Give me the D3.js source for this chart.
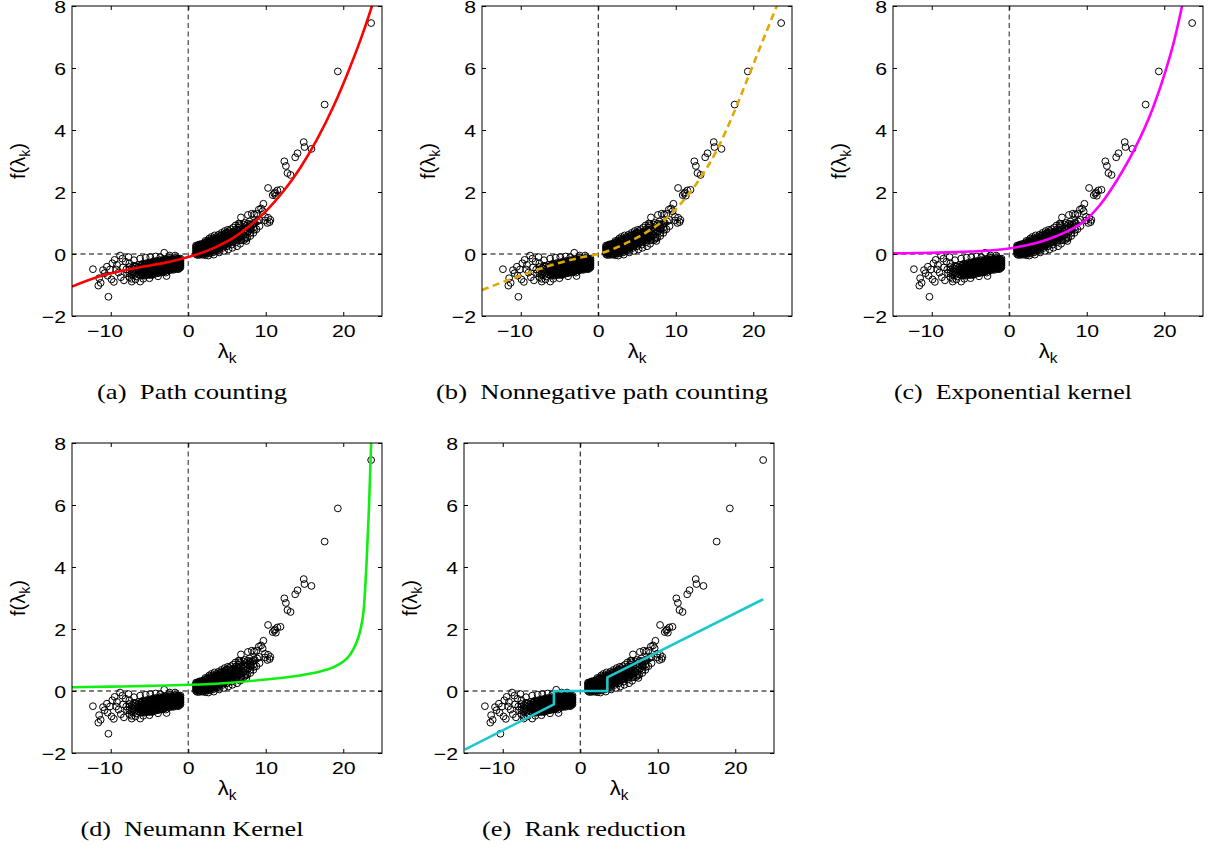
<!DOCTYPE html>
<html>
<head>
<meta charset="utf-8">
<script src="https://cdn.jsdelivr.net/npm/d3@7"></script>
<style>
  body { margin: 0; background: #fff; }
  svg { display: block; }
</style>
</head>
<body>
<svg id="chart" width="1211" height="847"></svg>
<script>
// ---------------- DATA ----------------
const xDomain = [-15, 25];
const yDomain = [-2, 8];
const xTicks = [-10, 0, 10, 20];
const yTicks = [-2, 0, 2, 4, 6, 8];

// eigenvalue scatter (lambda_k, f(lambda_k))
const outlierPoints = [
  [23.6, 7.45], [19.3, 5.89], [17.6, 4.82], [15.9, 3.39], [14.9, 3.61], [15.0, 3.45],
  [14.1, 3.25], [13.8, 3.12], [12.4, 2.99], [12.6, 2.84], [12.8, 2.61], [13.2, 2.55]
];
const tailPoints = [
  [10.3, 2.13], [10.9, 1.9], [11.1, 1.95], [11.3, 1.88], [11.5, 2.05], [11.9, 2.07], [11.2, 1.99],
  [9.7, 1.62], [9.4, 1.47], [9.1, 1.43], [9.6, 1.38], [8.8, 1.3], [8.5, 1.27], [8.2, 1.3],
  [7.7, 1.26], [9.9, 1.2], [10.3, 1.17], [10.6, 1.1], [10.5, 1.03], [10.2, 1.0], [9.9, 1.08],
  [9.2, 1.1], [8.9, 1.05], [8.6, 1.0], [8.3, 0.95], [8.0, 0.9], [7.6, 0.85], [8.1, 0.82],
  [8.5, 0.78], [7.9, 1.05], [7.3, 1.0], [6.8, 1.18], [6.7, 0.93], [6.6, 0.97], [7.1, 0.62],
  [7.4, 0.5], [7.5, 0.42], [6.9, 0.45]
];
const posScatterPoints = [
  [2.2, 0.42], [2.7, 0.5], [3.0, 0.55], [3.4, 0.6], [3.9, 0.62], [4.3, 0.68], [4.7, 0.74],
  [5.1, 0.78], [5.5, 0.8], [5.8, 0.85], [6.1, 0.92], [6.5, 0.98], [4.0, 0.05], [4.6, 0.1],
  [5.2, 0.15], [5.7, 0.2], [6.3, 0.25], [6.7, 0.33], [7.2, 0.45], [7.6, 0.52], [8.0, 0.58],
  [8.4, 0.68], [8.8, 0.8], [9.2, 0.9], [3.3, -0.02], [2.6, -0.05]
];
const negScatterPoints = [
  [-12.3, -0.49], [-11.6, -1.02], [-11.3, -0.93], [-11.5, -0.78], [-11.0, -0.52], [-10.3, -1.38],
  [-10.5, -0.41], [-10.8, -0.62], [-9.9, -0.82], [-9.5, -0.19], [-8.8, -0.05], [-9.6, -0.9],
  [-10.1, -0.5], [-9.2, -0.35], [-9.0, -0.6], [-8.4, -0.43], [-8.7, -0.75], [-8.1, -0.25],
  [-7.9, -0.62], [-7.3, -0.89], [-8.3, -0.85], [-6.2, -0.89], [-4.7, -0.68], [-3.1, 0.04],
  [-2.8, -0.71], [-6.2, -0.15], [-5.5, -0.12], [-4.9, -0.1], [-4.2, -0.08], [-3.6, -0.1],
  [-7.0, -0.2], [-7.6, -0.3], [-8.0, -0.5], [-6.8, -0.82], [-5.8, -0.8], [-5.0, -0.78],
  [-3.9, -0.72], [-9.8, -0.3], [-9.3, -0.5], [-10.4, -0.7], [-8.5, -0.15], [-7.7, -0.1],
  [-2.4, -0.05], [-1.7, -0.05]
];
// dense bands: [lambda, list of f values at that lambda]
const posBandColumns = [
  [1.0, [0.0, 0.07, 0.14, 0.21, 0.27]],
  [1.08, [0.03, 0.1, 0.17, 0.24]],
  [1.15, [-0.03, 0.04, 0.11, 0.18, 0.25]],
  [1.3, [0.01, 0.08, 0.15, 0.22, 0.29]],
  [1.38, [0.05, 0.12, 0.19, 0.26]],
  [1.45, [-0.03, 0.04, 0.11, 0.18, 0.25, 0.31]],
  [1.6, [0.01, 0.08, 0.15, 0.22, 0.29]],
  [1.7, [0.02, 0.09, 0.16, 0.23, 0.3]],
  [1.8, [-0.02, 0.05, 0.12, 0.19, 0.26, 0.33]],
  [2.0, [0.02, 0.09, 0.16, 0.23, 0.3]],
  [2.1, [0.0, 0.07, 0.14, 0.21, 0.28, 0.36]],
  [2.2, [-0.04, 0.05, 0.12, 0.19, 0.26, 0.34]],
  [2.4, [0.03, 0.1, 0.17, 0.24, 0.31, 0.38]],
  [2.5, [0.08, 0.15, 0.22, 0.29, 0.36, 0.43]],
  [2.6, [0.06, 0.13, 0.2, 0.27, 0.34]],
  [2.8, [0.02, 0.09, 0.16, 0.23, 0.3, 0.38, 0.45]],
  [2.9, [0.13, 0.2, 0.27, 0.34, 0.41]],
  [3.0, [0.1, 0.17, 0.24, 0.31, 0.38]],
  [3.2, [0.05, 0.13, 0.2, 0.27, 0.34, 0.42, 0.5]],
  [3.3, [0.1, 0.17, 0.24, 0.31, 0.38, 0.46]],
  [3.4, [0.15, 0.22, 0.29, 0.36, 0.44]],
  [3.6, [0.1, 0.18, 0.25, 0.32, 0.4, 0.48, 0.55]],
  [3.7, [0.16, 0.23, 0.3, 0.37, 0.44, 0.52]],
  [3.8, [0.2, 0.27, 0.34, 0.42, 0.5]],
  [4.0, [0.14, 0.22, 0.3, 0.37, 0.45, 0.53]],
  [4.1, [0.2, 0.27, 0.34, 0.41, 0.49, 0.57]],
  [4.25, [0.25, 0.33, 0.4, 0.48, 0.6]],
  [4.5, [0.2, 0.3, 0.37, 0.45, 0.52, 0.62]],
  [4.6, [0.25, 0.34, 0.42, 0.5, 0.58]],
  [4.75, [0.3, 0.4, 0.48, 0.56, 0.66]],
  [5.0, [0.25, 0.35, 0.44, 0.52, 0.6, 0.7]],
  [5.15, [0.3, 0.4, 0.49, 0.58, 0.67]],
  [5.3, [0.36, 0.46, 0.55, 0.64, 0.74]],
  [5.6, [0.3, 0.42, 0.5, 0.6, 0.68]],
  [5.75, [0.38, 0.48, 0.58, 0.68]],
  [5.9, [0.45, 0.55, 0.64, 0.73]],
  [6.2, [0.38, 0.5, 0.6, 0.7, 0.8]],
  [6.35, [0.45, 0.56, 0.66, 0.76]],
  [6.5, [0.52, 0.63, 0.73, 0.85]],
  [6.8, [0.45, 0.58, 0.68, 0.78]],
  [7.1, [0.6, 0.72, 0.83, 0.95]],
  [7.4, [0.55, 0.68, 0.8, 0.9]],
  [7.7, [0.72, 0.85, 0.98]],
  [8.0, [0.68, 0.8, 0.95]],
  [8.4, [0.85, 1.0]]
];
const negBandColumns = [
  [-1.0, [-0.15, -0.22, -0.29, -0.36, -0.43]],
  [-1.08, [-0.19, -0.26, -0.33, -0.4]],
  [-1.15, [-0.18, -0.25, -0.32, -0.39, -0.46]],
  [-1.3, [-0.14, -0.21, -0.28, -0.35, -0.42, -0.49]],
  [-1.4, [-0.2, -0.27, -0.34, -0.41, -0.47]],
  [-1.5, [-0.17, -0.24, -0.31, -0.38, -0.45]],
  [-1.7, [-0.13, -0.2, -0.27, -0.34, -0.41, -0.48]],
  [-1.8, [-0.18, -0.25, -0.32, -0.39, -0.46]],
  [-1.9, [-0.16, -0.23, -0.3, -0.37, -0.44, -0.51]],
  [-2.1, [-0.19, -0.26, -0.33, -0.4, -0.47]],
  [-2.2, [-0.16, -0.23, -0.3, -0.37, -0.44, -0.51]],
  [-2.3, [-0.12, -0.22, -0.29, -0.36, -0.43, -0.5]],
  [-2.5, [-0.18, -0.25, -0.32, -0.39, -0.46, -0.53]],
  [-2.6, [-0.22, -0.29, -0.36, -0.43, -0.5]],
  [-2.7, [-0.21, -0.28, -0.35, -0.42, -0.49]],
  [-2.9, [-0.16, -0.24, -0.31, -0.38, -0.45, -0.53, -0.6]],
  [-3.0, [-0.19, -0.26, -0.33, -0.4, -0.47, -0.55]],
  [-3.1, [-0.22, -0.29, -0.36, -0.43, -0.5, -0.57]],
  [-3.3, [-0.19, -0.27, -0.34, -0.41, -0.48, -0.55]],
  [-3.4, [-0.23, -0.3, -0.37, -0.44, -0.51, -0.58]],
  [-3.5, [-0.24, -0.31, -0.38, -0.45, -0.52, -0.6]],
  [-3.7, [-0.2, -0.28, -0.35, -0.42, -0.49, -0.56]],
  [-3.8, [-0.24, -0.31, -0.38, -0.45, -0.52, -0.59]],
  [-3.9, [-0.26, -0.33, -0.4, -0.47, -0.54, -0.62]],
  [-4.1, [-0.22, -0.3, -0.37, -0.44, -0.51, -0.58]],
  [-4.2, [-0.26, -0.33, -0.4, -0.47, -0.54, -0.61]],
  [-4.3, [-0.28, -0.35, -0.42, -0.49, -0.56, -0.64]],
  [-4.5, [-0.24, -0.32, -0.39, -0.46, -0.53, -0.6]],
  [-4.6, [-0.28, -0.35, -0.42, -0.49, -0.56, -0.63]],
  [-4.7, [-0.3, -0.37, -0.44, -0.51, -0.58, -0.66]],
  [-4.9, [-0.27, -0.34, -0.41, -0.48, -0.55, -0.62]],
  [-5.0, [-0.3, -0.37, -0.44, -0.51, -0.58, -0.65]],
  [-5.1, [-0.32, -0.39, -0.46, -0.53, -0.6, -0.68]],
  [-5.35, [-0.29, -0.37, -0.44, -0.51, -0.58, -0.65]],
  [-5.5, [-0.33, -0.4, -0.47, -0.54, -0.61, -0.68]],
  [-5.6, [-0.34, -0.42, -0.49, -0.56, -0.63, -0.7]],
  [-5.85, [-0.31, -0.4, -0.47, -0.54, -0.61, -0.68]],
  [-6.0, [-0.35, -0.43, -0.5, -0.57, -0.65]],
  [-6.1, [-0.37, -0.45, -0.52, -0.6, -0.7]],
  [-6.4, [-0.35, -0.43, -0.5, -0.58, -0.66]],
  [-6.7, [-0.4, -0.5, -0.6, -0.72]],
  [-7.0, [-0.38, -0.48, -0.57, -0.68]],
  [-7.3, [-0.45, -0.56, -0.66, -0.8]],
  [-7.6, [-0.42, -0.52, -0.62, -0.75]]
];

// fitted spectral functions
const pathCountingCurve = [
  [-15, -1.05], [-11.4, -0.72], [-7.1, -0.47], [-2.8, -0.27], [0, -0.1], [3.7, 0.24],
  [5.8, 0.52], [8.0, 0.92], [10.1, 1.4], [12.3, 2.03], [14.4, 2.76], [16.6, 3.69],
  [18.7, 4.74], [20.9, 6.04], [22.5, 7.1], [23.7, 8.0], [24.3, 8.5]
];
const nonnegPathCurve = [
  [-15, -1.16], [-10.6, -0.75], [-6.3, -0.38], [-2, -0.1], [0, 0], [2.3, 0.2], [4.5, 0.46],
  [6.6, 0.76], [8.8, 1.15], [10.9, 1.7], [13.1, 2.42], [15.2, 3.3], [17.4, 4.5],
  [19.5, 5.8], [21.5, 7.05], [23.2, 8.1]
];
const expKernelCurve = [
  [-15, 0.02], [-10, 0.04], [-5, 0.08], [0, 0.18], [3.1, 0.33], [5.3, 0.5], [7.4, 0.72],
  [9.6, 1.04], [11.7, 1.58], [13.9, 2.38], [16, 3.3], [18.6, 4.75], [20.1, 5.85],
  [21.3, 6.9], [22.3, 8.0], [22.8, 8.6]
];
const neumannCurve = [
  [-15, 0.12], [-10, 0.14], [-5, 0.165], [0, 0.2], [5, 0.26], [10, 0.37], [14.4, 0.5],
  [17, 0.63], [18.7, 0.76], [20, 0.95], [20.9, 1.18], [21.6, 1.5], [22.2, 1.96],
  [22.7, 2.8], [23.0, 4.1], [23.3, 5.8], [23.6, 8.0], [23.7, 9.0]
];
const rankReductionCurve = [
  [-14.9, -1.89], [-3.4, -0.43], [-3.4, 0], [3.5, 0], [3.5, 0.44], [23.6, 2.96]
];

const captionLabels = ["(a)", "(b)", "(c)", "(d)", "(e)"];
const captionTitles = ["Path counting", "Nonnegative path counting", "Exponential kernel", "Neumann Kernel", "Rank reduction"];

// ---------------- LAYOUT / STYLE ----------------
const W = 310, H = 310;
const STRETCH = 1.25;   // the original figure's text is horizontally stretched
const panels = [
  { left: 72,  top: 6,   curve: pathCountingCurve, color: "#ff0000", dash: null,  smooth: true,  zeroCol: "#555", zeroW: 1.3, capW: 190 },
  { left: 482, top: 6,   curve: nonnegPathCurve,   color: "#e0a800", dash: "7,4.5", smooth: true, zeroCol: "#000", zeroW: 1.0, capW: 332 },
  { left: 893, top: 6,   curve: expKernelCurve,    color: "#ff00ff", dash: null,  smooth: true,  zeroCol: "#555", zeroW: 1.3, capW: 238 },
  { left: 72,  top: 443, curve: neumannCurve,      color: "#11ee11", dash: null,  smooth: true,  zeroCol: "#555", zeroW: 1.3, capW: 223 },
  { left: 464, top: 443, curve: rankReductionCurve,color: "#1cc8cc", dash: null,  smooth: false, zeroCol: "#000", zeroW: 1.0, capW: 204 }
];

const scatter = [].concat(
  outlierPoints, tailPoints, posScatterPoints, negScatterPoints,
  posBandColumns.flatMap(([lx, ys]) => ys.map(v => [lx, v])),
  negBandColumns.flatMap(([lx, ys]) => ys.map(v => [lx, v]))
);

const svg = d3.select("#chart");
const defs = svg.append("defs");
const sansFont = "'Liberation Sans', Arial, Helvetica, sans-serif";
const serifFont = "'Liberation Serif', 'Times New Roman', serif";
const MINUS = "\u2212";

panels.forEach((p, i) => {
  const x = d3.scaleLinear().domain(xDomain).range([0, W]);
  const y = d3.scaleLinear().domain(yDomain).range([H, 0]);
  const g = svg.append("g").attr("transform", `translate(${p.left},${p.top})`);

  defs.append("clipPath").attr("id", "clip" + i)
    .append("rect").attr("width", W).attr("height", H);
  const inner = g.append("g").attr("clip-path", `url(#clip${i})`);

  // zero reference lines
  inner.append("line")
    .attr("x1", x(0)).attr("x2", x(0)).attr("y1", 0).attr("y2", H)
    .attr("stroke", p.zeroCol).attr("stroke-width", p.zeroW).attr("stroke-dasharray", "5,3.5");
  inner.append("line")
    .attr("x1", 0).attr("x2", W).attr("y1", y(0)).attr("y2", y(0))
    .attr("stroke", p.zeroCol).attr("stroke-width", p.zeroW).attr("stroke-dasharray", "5,3.5");

  // scatter
  inner.append("g").selectAll("circle").data(scatter).join("circle")
    .attr("cx", d => x(d[0])).attr("cy", d => y(d[1]))
    .attr("r", 3.4).attr("fill", "none").attr("stroke", "#000").attr("stroke-width", 1);

  // fitted curve
  const line = d3.line().x(d => x(d[0])).y(d => y(d[1]))
    .curve(p.smooth ? d3.curveMonotoneX : d3.curveLinear);
  inner.append("path").datum(p.curve)
    .attr("d", line).attr("fill", "none").attr("stroke", p.color)
    .attr("stroke-width", 2.6).attr("stroke-dasharray", p.dash)
    .attr("stroke-linejoin", "round");

  // axes (MATLAB style: inward ticks on all sides)
  const styleAxis = sel => {
    sel.select(".domain").remove();
    sel.selectAll("line").attr("stroke", "#000");
    sel.selectAll("text").attr("fill", "#000").style("font-family", sansFont).style("font-size", "17px");
  };
  // bottom: digits centred on the tick, minus sign hanging to the left (MATLAB style)
  const bottomAxis = g.append("g").attr("transform", `translate(0,${H})`)
    .call(d3.axisBottom(x).tickValues(xTicks).tickSizeInner(-4).tickSizeOuter(0).tickPadding(9)
      .tickFormat(v => String(Math.abs(v))))
    .call(styleAxis);
  bottomAxis.selectAll(".tick").each(function (v) {
    const t = d3.select(this).select("text");
    t.attr("transform", `scale(${STRETCH},1)`);
    if (v < 0) {
      const w = t.node().getComputedTextLength();
      d3.select(this).append("text")
        .attr("fill", "#000").attr("y", t.attr("y")).attr("dy", t.attr("dy"))
        .attr("x", -w / 2).attr("text-anchor", "end")
        .attr("transform", `scale(${STRETCH},1)`)
        .style("font-family", sansFont).style("font-size", "17px")
        .text(MINUS);
    }
  });
  g.append("g")
    .call(d3.axisTop(x).tickValues(xTicks).tickSizeInner(-4).tickSizeOuter(0).tickFormat(""))
    .call(styleAxis);
  g.append("g")
    .call(d3.axisLeft(y).tickValues(yTicks).tickSizeInner(-4).tickSizeOuter(0).tickPadding(6))
    .call(styleAxis)
    .call(sel => sel.selectAll("text")
      .attr("dy", "0.36em")
      .attr("x", -6 / STRETCH)
      .attr("transform", `scale(${STRETCH},1)`));
  g.append("g").attr("transform", `translate(${W},0)`)
    .call(d3.axisRight(y).tickValues(yTicks).tickSizeInner(-4).tickSizeOuter(0).tickFormat(""))
    .call(styleAxis);

  // frame
  g.append("rect").attr("width", W).attr("height", H)
    .attr("fill", "none").attr("stroke", "#000").attr("stroke-width", 1);

  // x label λ_k
  const xl = g.append("text")
    .attr("transform", `translate(${W / 2},${H + 42}) scale(1.1,1)`)
    .attr("text-anchor", "middle").style("font-family", sansFont).style("font-size", "20px");
  xl.append("tspan").text("λ");
  xl.append("tspan").attr("dy", 5).style("font-size", "14px").text("k");

  // y label f(λ_k)
  const yl = g.append("text")
    .attr("transform", `translate(-47,${H / 2}) rotate(-90)`)
    .attr("text-anchor", "middle").style("font-family", sansFont).style("font-size", "20px");
  yl.append("tspan").text("f(λ");
  yl.append("tspan").attr("dy", 5).style("font-size", "14px").text("k");
  yl.append("tspan").attr("dy", -5).text(")");

  // caption
  g.append("text")
    .attr("x", W / 2 - 35).attr("y", 393)
    .attr("text-anchor", "middle")
    .attr("textLength", p.capW).attr("lengthAdjust", "spacingAndGlyphs")
    .style("font-family", serifFont).style("font-size", "21px").attr("fill", "#000")
    .text(captionLabels[i] + "\u2002" + captionTitles[i]);
});
</script>
</body>
</html>
